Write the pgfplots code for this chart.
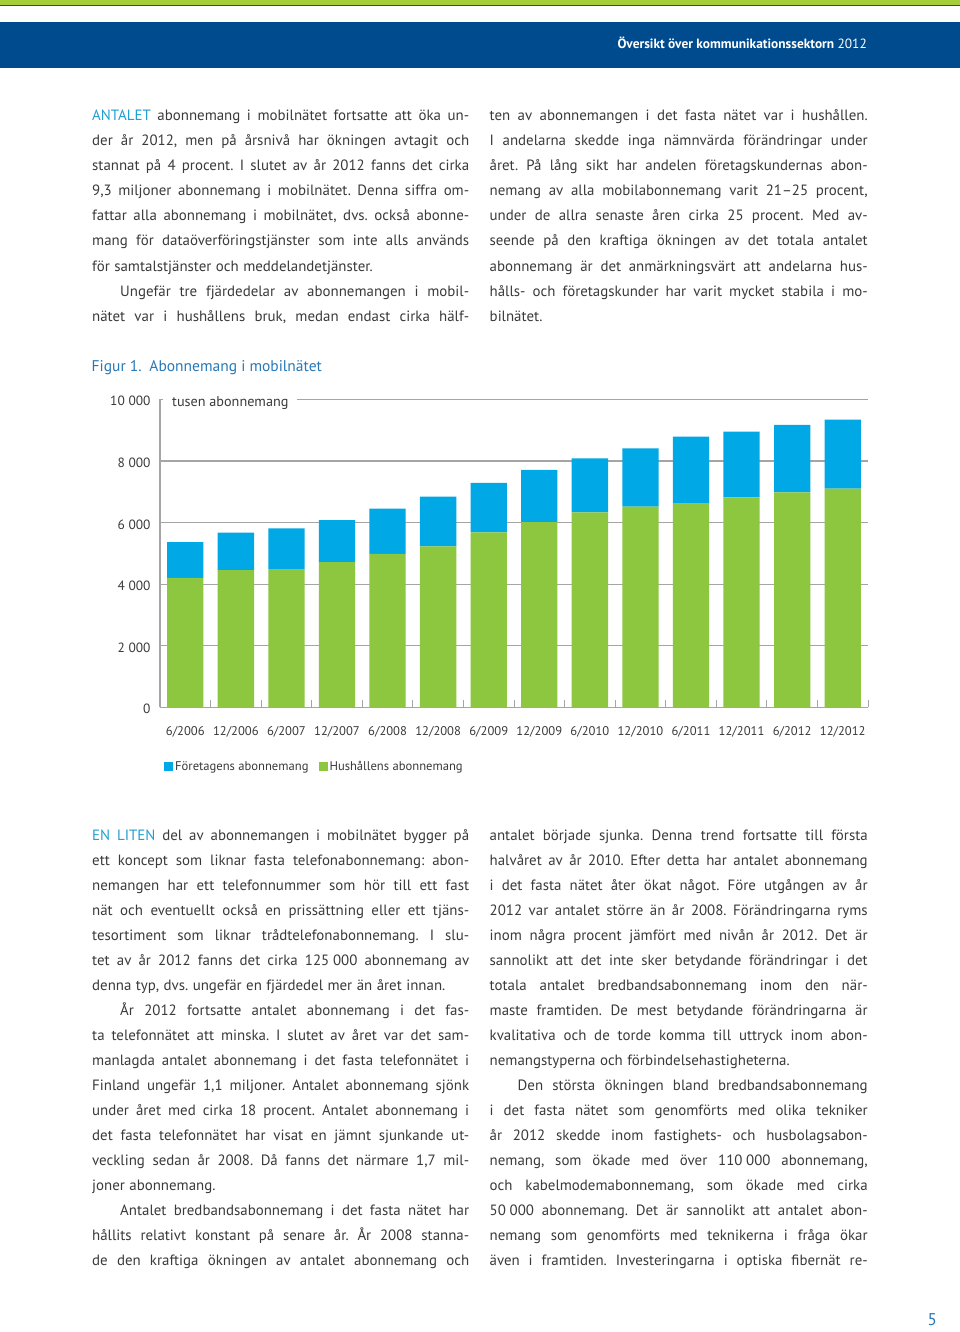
\documentclass[border=0pt]{standalone}
\usepackage{fontspec}
\setmainfont{PT Sans}
\usepackage{graphicx}
\usepackage{pgfplots}
\pgfplotsset{compat=1.18}
\frenchspacing
\definecolor{hdrBlue}{RGB}{0,75,141}
\definecolor{stripeGreen}{RGB}{166,206,57}
\definecolor{stripeDark}{RGB}{40,80,90}
\definecolor{barBlue}{RGB}{0,168,230}
\definecolor{barGreen}{RGB}{141,198,63}
\definecolor{titleBlue}{RGB}{40,120,182}
\definecolor{leadCyan}{RGB}{30,160,210}
\definecolor{txt}{RGB}{58,58,58}
\definecolor{gridgray}{RGB}{165,165,165}
\newcommand\bodyfont{\fontsize{14.9}{16}\selectfont\frenchspacing\spaceskip=0.3em plus 0.4em minus 0.12em\relax}
\newcommand\chartfont{\fontsize{12.6}{14}\selectfont}
\newcommand\J[4]{\node[anchor=base west,inner sep=0,text=txt,font=\bodyfont] at (#1,-#2) {\makebox[#3pt][s]{#4}};}
\newcommand\R[3]{\node[anchor=base west,inner sep=0,text=txt,font=\bodyfont] at (#1,-#2) {#3};}
\newcommand\ns{\hspace{0.25em}}
\begin{document}
\begin{tikzpicture}[x=1pt,y=1pt]
\fill[white] (0,0) rectangle (960,-1332);
% header
\fill[stripeGreen] (0,0) rectangle (960,-4.7);
\fill[stripeDark] (0,-4.7) rectangle (960,-6.5);
\fill[hdrBlue] (0,-21.7) rectangle (960,-68.3);
\node[anchor=base east,inner sep=0,text=white] at (867,-49) {\fontsize{13.4}{15}\selectfont\bfseries Översikt över kommunikationssektorn \mdseries 2012};
% top left column
\J{92}{121}{377}{{\color{leadCyan}ANTALET} abonnemang i mobilnätet fortsatte att öka un-}
\J{92}{146}{377}{der år 2012, men på årsnivå har ökningen avtagit och}
\J{92}{171}{377}{stannat på 4 procent. I slutet av år 2012 fanns det cirka}
\J{92}{196}{377}{9,3 miljoner abonnemang i mobilnätet. Denna siffra om-}
\J{92}{221}{377}{fattar alla abonnemang i mobilnätet, dvs. också abonne-}
\J{92}{246}{377}{mang för dataöverföringstjänster som inte alls används}
\R{92}{271}{för samtalstjänster och meddelandetjänster.}
\J{120}{296}{349}{Ungefär tre fjärdedelar av abonnemangen i mobil-}
\J{92}{321}{377}{nätet var i hushållens bruk, medan endast cirka hälf-}
% top right column
\J{489.5}{121}{378}{ten av abonnemangen i det fasta nätet var i hushållen.}
\J{489.5}{146}{378}{I andelarna skedde inga nämnvärda förändringar under}
\J{489.5}{171}{378}{året. På lång sikt har andelen företagskundernas abon-}
\J{489.5}{196}{378}{nemang av alla mobilabonnemang varit 21–25 procent,}
\J{489.5}{221}{378}{under de allra senaste åren cirka 25 procent. Med av-}
\J{489.5}{246}{378}{seende på den kraftiga ökningen av det totala antalet}
\J{489.5}{271}{378}{abonnemang är det anmärkningsvärt att andelarna hus-}
\J{489.5}{296}{378}{hålls- och företagskunder har varit mycket stabila i mo-}
\R{489.5}{321}{bilnätet.}
% figure title
\node[anchor=base west,inner sep=0,text=titleBlue,font=\fontsize{15.5}{17}\selectfont] at (91.5,-371.5) {Figur 1.\hspace{0.5em}Abonnemang i mobilnätet};
% chart
\begin{axis}[
  at={(160pt,-707.3pt)}, anchor=south west,
  scale only axis, width=708pt, height=308pt,
  ybar stacked, bar width=36.3pt,
  xmin=-0.5, xmax=13.5, ymin=0, ymax=10000,
  scaled y ticks=false,
  enlargelimits=false, clip=false,
  axis x line*=bottom, axis y line*=left,
  axis line style={draw=gridgray, line width=1.2pt},
  xtick={0,...,13},
  xticklabels={6/2006,12/2006,6/2007,12/2007,6/2008,12/2008,6/2009,12/2009,6/2010,12/2010,6/2011,12/2011,6/2012,12/2012},
  xticklabel style={font=\chartfont, text=txt, anchor=base, yshift=-28pt},
  major x tick style={draw=none},
  extra x ticks={0.5,1.5,2.5,3.5,4.5,5.5,6.5,7.5,8.5,9.5,10.5,11.5,12.5,13.5},
  extra x tick labels={},
  extra x tick style={grid=none, major tick length=7pt, xtick align=inside, major x tick style={draw=gridgray, line width=1pt}},
  ytick={0,2000,4000,6000,8000,10000},
  yticklabels={0,2\hspace{0.28em}000,4\hspace{0.28em}000,6\hspace{0.28em}000,8\hspace{0.28em}000,10\hspace{0.28em}000},
  yticklabel style={font=\fontsize{13.4}{15}\selectfont, text=txt, anchor=east, xshift=-6pt, yshift=-2pt},
  major y tick style={draw=none},
  ymajorgrids, grid style={draw=gridgray, line width=1.2pt},
  reverse legend,
  legend columns=2,
  legend cell align=left,
  legend style={at={(0,0)}, anchor=north west, xshift=4pt, yshift=-52pt, draw=none, fill=none, inner sep=0pt, font=\chartfont, text=txt,
    /tikz/every even column/.append style={column sep=8pt}},
  legend image code/.code={\fill[#1,draw=none] (0pt,-4.5pt) rectangle (9pt,4.5pt);},
]
\addplot[fill=barGreen, draw=none] coordinates {(0,4205) (1,4455) (2,4488) (3,4715) (4,4985) (5,5223) (6,5678) (7,6016) (8,6328) (9,6514) (10,6611) (11,6816) (12,6979) (13,7099)};
\addlegendentry{Hushållens abonnemang}
\addplot[fill=barBlue, draw=none] coordinates {(0,1161) (1,1213) (2,1320) (3,1366) (4,1464) (5,1616) (6,1607) (7,1691) (8,1757) (9,1896) (10,2179) (11,2137) (12,2192) (13,2244)};
\addlegendentry{Företagens abonnemang}
\end{axis}
\fill[white] (162.5,-392) rectangle (297,-406);
\node[anchor=base west,inner sep=0,text=txt,font=\fontsize{14.2}{16}\selectfont] at (172,-406) {tusen abonnemang};
% bottom left column
\J{92}{840}{377}{{\color{leadCyan}EN LITEN} del av abonnemangen i mobilnätet bygger på}
\J{92}{865}{377}{ett koncept som liknar fasta telefonabonnemang: abon-}
\J{92}{890}{377}{nemangen har ett telefonnummer som hör till ett fast}
\J{92}{915}{377}{nät och eventuellt också en prissättning eller ett tjäns-}
\J{92}{940}{377}{tesortiment som liknar trådtelefonabonnemang. I slu-}
\J{92}{965}{377}{tet av år 2012 fanns det cirka 125\ns000 abonnemang av}
\R{92}{990}{denna typ, dvs. ungefär en fjärdedel mer än året innan.}
\J{120}{1015}{349}{År 2012 fortsatte antalet abonnemang i det fas-}
\J{92}{1040}{377}{ta telefonnätet att minska. I slutet av året var det sam-}
\J{92}{1065}{377}{manlagda antalet abonnemang i det fasta telefonnätet i}
\J{92}{1090}{377}{Finland ungefär 1,1 miljoner. Antalet abonnemang sjönk}
\J{92}{1115}{377}{under året med cirka 18 procent. Antalet abonnemang i}
\J{92}{1140}{377}{det fasta telefonnätet har visat en jämnt sjunkande ut-}
\J{92}{1165}{377}{veckling sedan år 2008. Då fanns det närmare 1,7 mil-}
\R{92}{1190}{joner abonnemang.}
\J{120}{1215}{349}{Antalet bredbandsabonnemang i det fasta nätet har}
\J{92}{1240}{377}{hållits relativt konstant på senare år. År 2008 stanna-}
\J{92}{1265}{377}{de den kraftiga ökningen av antalet abonnemang och}
% bottom right column
\J{489.5}{840}{378}{antalet började sjunka. Denna trend fortsatte till första}
\J{489.5}{865}{378}{halvåret av år 2010. Efter detta har antalet abonnemang}
\J{489.5}{890}{378}{i det fasta nätet åter ökat något. Före utgången av år}
\J{489.5}{915}{378}{2012 var antalet större än år 2008. Förändringarna ryms}
\J{489.5}{940}{378}{inom några procent jämfört med nivån år 2012. Det är}
\J{489.5}{965}{378}{sannolikt att det inte sker betydande förändringar i det}
\J{489.5}{990}{378}{totala antalet bredbandsabonnemang inom den när-}
\J{489.5}{1015}{378}{maste framtiden. De mest betydande förändringarna är}
\J{489.5}{1040}{378}{kvalitativa och de torde komma till uttryck inom abon-}
\R{489.5}{1065}{nemangstyperna och förbindelsehastigheterna.}
\J{517.5}{1090}{350}{Den största ökningen bland bredbandsabonnemang}
\J{489.5}{1115}{378}{i det fasta nätet som genomförts med olika tekniker}
\J{489.5}{1140}{378}{år 2012 skedde inom fastighets- och husbolagsabon-}
\J{489.5}{1165}{378}{nemang, som ökade med över 110\ns000 abonnemang,}
\J{489.5}{1190}{378}{och kabelmodemabonnemang, som ökade med cirka}
\J{489.5}{1215}{378}{50\ns000 abonnemang. Det är sannolikt att antalet abon-}
\J{489.5}{1240}{378}{nemang som genomförts med teknikerna i fråga ökar}
\J{489.5}{1265}{378}{även i framtiden. Investeringarna i optiska fibernät re-}
% page number
\node[anchor=base east,inner sep=0,text=titleBlue,font=\fontsize{17}{19}\selectfont] at (937,-1325) {5};
\end{tikzpicture}
\end{document}
